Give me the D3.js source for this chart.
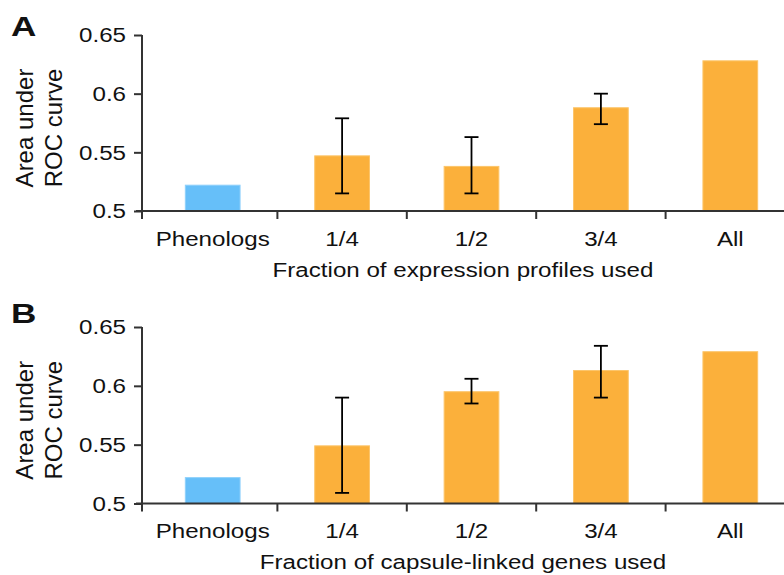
<!DOCTYPE html>
<html>
<head>
<meta charset="utf-8">
<script src="https://cdn.jsdelivr.net/npm/d3@7"></script>
<style>
  html, body { margin: 0; padding: 0; background: #fff; }
  svg { display: block; }
  text { font-family: "Liberation Sans", Arial, sans-serif; fill: #111; }
</style>
</head>
<body>
<svg id="chart" width="784" height="575"></svg>
<script>
// ---- Data ----
const categories = ["Phenologs", "1/4", "1/2", "3/4", "All"];
const aucA      = [0.522, 0.547, 0.538, 0.588, 0.628];
const errLowA   = [null, 0.515, 0.515, 0.574, null];
const errHighA  = [null, 0.579, 0.563, 0.600, null];
const aucB      = [0.522, 0.549, 0.595, 0.613, 0.629];
const errLowB   = [null, 0.509, 0.585, 0.590, null];
const errHighB  = [null, 0.590, 0.606, 0.634, null];
const yTicks    = [0.5, 0.55, 0.6, 0.65];
const yDomain   = [0.5, 0.65];
const panelLetters = ["A", "B"];
const xTitles   = ["Fraction of expression profiles used", "Fraction of capsule-linked genes used"];
const yTitleLines = ["Area under", "ROC curve"];
const barColors = { base: "#66BFF9", frac: "#FBB03B" };
const barStroke = { base: "#8ED0FB", frac: "#FCC56A" };

// ---- Layout ----
const svg = d3.select("#chart");
const SX = 1.15; // horizontal text stretch seen in reference
const axisX = 142;
const x = d3.scaleBand().domain(categories).range([148, 795]).paddingInner(0.577).paddingOuter(0.2885);
const xStep = d3.scaleBand().domain(categories).range([148, 795]).padding(0);

const panels = [
  { letter: panelLetters[0], title: xTitles[0], vals: aucA, lo: errLowA, hi: errHighA, range: [211, 35], letterY: 36 },
  { letter: panelLetters[1], title: xTitles[1], vals: aucB, lo: errLowB, hi: errHighB, range: [503.5, 327], letterY: 323 }
];

panels.forEach(p => {
  const y = d3.scaleLinear().domain(yDomain).range(p.range);
  const g = svg.append("g");
  const y0 = y(0.5);

  // bars
  g.selectAll("rect.bar").data(categories).join("rect")
    .attr("class", "bar")
    .attr("x", d => x(d))
    .attr("width", x.bandwidth())
    .attr("y", (d, i) => y(p.vals[i]))
    .attr("height", (d, i) => y0 - y(p.vals[i]))
    .attr("fill", (d, i) => i === 0 ? barColors.base : barColors.frac)
    .attr("stroke", (d, i) => i === 0 ? barStroke.base : barStroke.frac)
    .attr("stroke-width", 1);

  // error bars
  const eb = categories.map((c, i) => ({ c, lo: p.lo[i], hi: p.hi[i] })).filter(d => d.lo != null);
  const ebG = g.selectAll("g.eb").data(eb).join("g").attr("class", "eb")
    .attr("stroke", "#000").attr("stroke-width", 1.8).attr("fill", "none");
  ebG.append("line")
    .attr("x1", d => x(d.c) + x.bandwidth() / 2).attr("x2", d => x(d.c) + x.bandwidth() / 2)
    .attr("y1", d => y(d.lo)).attr("y2", d => y(d.hi));
  ebG.append("line")
    .attr("x1", d => x(d.c) + x.bandwidth() / 2 - 7).attr("x2", d => x(d.c) + x.bandwidth() / 2 + 7)
    .attr("y1", d => y(d.hi)).attr("y2", d => y(d.hi));
  ebG.append("line")
    .attr("x1", d => x(d.c) + x.bandwidth() / 2 - 7).attr("x2", d => x(d.c) + x.bandwidth() / 2 + 7)
    .attr("y1", d => y(d.lo)).attr("y2", d => y(d.lo));

  // y axis
  const yAxis = g.append("g").attr("transform", `translate(${axisX},0)`)
    .call(d3.axisLeft(y).tickValues(yTicks).tickSize(8).tickPadding(8).tickFormat(d => String(d)));
  yAxis.select(".domain").remove();
  yAxis.selectAll(".tick line").attr("stroke", "#333").attr("stroke-width", 2);
  yAxis.selectAll(".tick text")
    .attr("font-size", 21)
    .attr("fill", "#111")
    .attr("x", -16 / SX)
    .attr("transform", `scale(${SX},1)`)
    .style("font-family", "'Liberation Sans', Arial, sans-serif");
  g.append("line")
    .attr("x1", axisX).attr("x2", axisX)
    .attr("y1", y(yDomain[1])).attr("y2", y0 + 8)
    .attr("stroke", "#333").attr("stroke-width", 2);

  // x axis line and boundary ticks
  g.append("line")
    .attr("x1", axisX - 6).attr("x2", 784)
    .attr("y1", y0).attr("y2", y0)
    .attr("stroke", "#333").attr("stroke-width", 2);
  g.selectAll("line.xt").data(categories.slice(1)).join("line")
    .attr("class", "xt")
    .attr("x1", d => xStep(d)).attr("x2", d => xStep(d))
    .attr("y1", y0).attr("y2", y0 + 8)
    .attr("stroke", "#333").attr("stroke-width", 2);

  // category labels
  g.selectAll("text.cat").data(categories).join("text")
    .attr("class", "cat")
    .attr("transform", d => `translate(${x(d) + x.bandwidth() / 2},${y0 + 34.5}) scale(${SX},1)`)
    .attr("text-anchor", "middle")
    .attr("font-size", 21)
    .text(d => d);

  // x title
  g.append("text")
    .attr("transform", `translate(463,${y0 + 65.5}) scale(${SX},1)`)
    .attr("text-anchor", "middle")
    .attr("font-size", 21)
    .text(p.title);

  // y title (two lines, rotated)
  const cy = (p.range[0] + p.range[1]) / 2 + 5;
  [33, 62].forEach((bx, i) => {
    g.append("text")
      .attr("transform", `translate(${bx},${cy}) rotate(-90)`)
      .attr("text-anchor", "middle")
      .attr("font-size", 24)
      .text(yTitleLines[i]);
  });

  // panel letter
  g.append("text")
    .attr("transform", `translate(11,${p.letterY}) scale(1.3,1)`)
    .attr("font-size", 27)
    .attr("font-weight", "bold")
    .attr("fill", "#000")
    .text(p.letter);
});
</script>
</body>
</html>
